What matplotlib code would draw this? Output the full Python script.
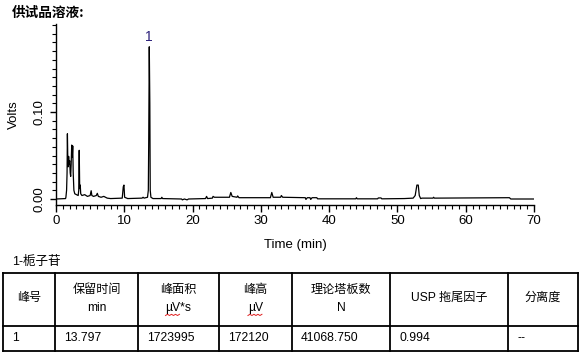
import matplotlib
matplotlib.use("Agg")
import matplotlib.pyplot as plt
from matplotlib.ticker import MultipleLocator, FixedLocator
from matplotlib.lines import Line2D

# ---------------- data ----------------
title = "供试品溶液:"
peak_name = "1-栀子苷"

times = [0.0, 1.40, 1.45, 1.55, 1.62, 1.67, 1.72, 1.78, 1.85, 1.92, 2.00, 2.08, 2.15,
         2.22, 2.30, 2.38, 2.45, 2.52, 2.62, 2.75, 3.00, 3.25, 3.33, 3.40, 3.47, 3.55,
         3.62, 3.80, 4.20, 4.60, 5.00, 5.15, 5.25, 5.50, 5.90, 6.05, 6.20, 6.60, 7.00,
         7.50, 8.00, 9.70, 9.85, 9.95, 10.05, 10.50, 12.60, 12.75, 12.90, 13.40, 13.52,
         13.58, 13.66, 13.74, 13.80, 13.90, 14.20, 15.40, 15.50, 15.60, 18.40, 18.50,
         18.80, 19.20, 19.40, 21.90, 22.05, 22.20, 22.90, 23.00, 23.20, 25.40, 25.60,
         25.80, 26.50, 26.60, 26.80, 31.40, 31.60, 31.80, 32.90, 33.00, 33.20, 36.50,
         36.60, 36.80, 37.20, 37.30, 37.50, 38.20, 38.30, 43.90, 44.00, 44.10, 47.10,
         47.20, 47.60, 47.70, 51.00, 52.30, 52.60, 52.85, 53.05, 53.20, 53.40, 53.60,
         55.20, 55.30, 55.40, 66.40, 66.60, 70.00]
volts = [0.0, 0.0005, 0.002, 0.010, 0.030, 0.075, 0.050, 0.037, 0.049, 0.040, 0.044, 0.030, 0.026,
         0.040, 0.062, 0.048, 0.061, 0.030, 0.010, 0.006, 0.005, 0.004, 0.010, 0.056, 0.012, 0.016,
         0.006, 0.004, 0.005, 0.003, 0.004, 0.0095, 0.004, 0.003, 0.004, 0.0065, 0.003, 0.002, 0.003,
         0.001, 0.0005, 0.001, 0.014, 0.016, 0.002, 0.0005, 0.001, 0.002, 0.001, 0.002, 0.010,
         0.068, 0.175, 0.110, 0.010, 0.002, 0.0005, 0.0005, 0.002, 0.0005, 0.0, -0.001,
         0.0, -0.001, 0.0, 0.0005, 0.003, 0.0005, 0.001, 0.003, 0.002, 0.002, 0.0075,
         0.003, 0.002, 0.0035, 0.0015, 0.0015, 0.0075, 0.002, 0.002, 0.004, 0.002, 0.0015,
         -0.0005, 0.0015, 0.0015, -0.0005, 0.0015, 0.0015, 0.0002, 0.0002, 0.0015, 0.0002, 0.0002,
         0.0012, 0.0012, 0.0002, 0.0005, 0.001, 0.004, 0.016, 0.016, 0.004, 0.0005, 0.001,
         0.001, 0.002, 0.001, 0.0015, 0.0, 0.0]

peak_label = "1"
peak_label_time = 13.66
peak_label_volts = 0.175

x_major = [0, 10, 20, 30, 40, 50, 60, 70]
y_major = [0.00, 0.10]
y_major_labels = ["0.00", "0.10"]

header_line1 = ["峰号", "保留时间", "峰面积", "峰高", "理论塔板数", "USP 拖尾因子", "分离度"]
header_line2 = ["", "min", "µV*s", "µV", "N", "", ""]
row_values = ["1", "13.797", "1723995", "172120", "41068.750", "0.994", "--"]

# ---------------- figure ----------------
W, H = 583, 357
fig = plt.figure(figsize=(W / 100, H / 100), dpi=100)
fam = ["Liberation Sans", "Noto Sans CJK SC", "DejaVu Sans"]
plt.rcParams["font.family"] = fam

def fx(x):
    return x / W

def fy(y):
    return 1 - y / H

ax = fig.add_axes([fx(56), fy(205), (534 - 56) / W, (205 - 24) / H])
ax.plot(times, volts, color="black", lw=0.9)
ax.set_xlim(0, 70)
ax.set_ylim(-0.0069, 0.2012)
for s in ("top", "right"):
    ax.spines[s].set_visible(False)
for s in ("left", "bottom"):
    ax.spines[s].set_linewidth(1.0)

ax.xaxis.set_major_locator(FixedLocator(x_major))
ax.xaxis.set_minor_locator(MultipleLocator(1))
ax.yaxis.set_major_locator(FixedLocator(y_major))
ax.set_yticklabels(y_major_labels)
ax.yaxis.set_minor_locator(MultipleLocator(0.01))
ax.tick_params(axis="x", which="major", length=5.2, width=1.0, labelsize=9.5, pad=2)
ax.tick_params(axis="x", which="minor", length=2.6, width=0.8)
ax.tick_params(axis="y", which="major", length=4.3, width=1.0, labelsize=9.5, pad=3)
ax.tick_params(axis="y", which="minor", length=2.9, width=0.8)
for lbl in ax.get_yticklabels():
    lbl.set_rotation(90)
    lbl.set_va("center")

ax.set_xlabel("Time (min)", fontsize=9.5, labelpad=1)
ax.set_ylabel("Volts", fontsize=9.5)
ax.yaxis.set_label_coords(fx(20 - 56) * W / (534 - 56), 0.5)
ax.xaxis.set_label_coords(0.5, -(239 - 205) / (205 - 24))

ax.text(peak_label_time, peak_label_volts + 0.003, peak_label, color="#2a1f7a",
        fontsize=10, ha="center", va="bottom")

fig.text(fx(12), fy(13), title, fontsize=9.8, fontweight="bold",
         family=["Noto Sans CJK SC", "DejaVu Sans"], ha="left", va="center")
fig.text(fx(12), fy(262), peak_name, fontsize=9, ha="left", va="center")

# ---------------- table ----------------
cols = [3, 55, 138, 219, 292, 390, 508, 578]
rows = [273, 326, 351]
lw = 1.3
for y in rows:
    fig.add_artist(Line2D([fx(cols[0]), fx(cols[-1])], [fy(y), fy(y)], color="black",
                          lw=lw, transform=fig.transFigure))
for x in cols:
    fig.add_artist(Line2D([fx(x), fx(x)], [fy(rows[0]), fy(rows[-1])], color="black",
                          lw=lw, transform=fig.transFigure))

fs_tab = 8.7
for i in range(len(header_line1)):
    cx = (cols[i] + cols[i + 1]) / 2
    if header_line2[i]:
        fig.text(fx(cx), fy(290), header_line1[i], fontsize=fs_tab, ha="center", va="center")
        t2 = fig.text(fx(cx), fy(308), header_line2[i], fontsize=fs_tab, ha="center", va="center")
        if header_line2[i].startswith("µV"):
            # red spell-check squiggle under "µV"
            fig.canvas.draw()
            bb = t2.get_window_extent()
            x0 = bb.x0
            step = 2.0
            n = 8
            xs = [fx(x0 + k * step) for k in range(n)]
            ys = [(bb.y0 - 1.5 + (1.2 if k % 2 else 0)) / H for k in range(n)]
            fig.add_artist(Line2D(xs, ys, color="#e02020", lw=0.7, transform=fig.transFigure))
    else:
        fig.text(fx(cx), fy(298), header_line1[i], fontsize=fs_tab, ha="center", va="center")
    fig.text(fx(cols[i] + 9), fy(338), row_values[i], fontsize=fs_tab, ha="left", va="center")

fig.savefig("out.png", dpi=100)
